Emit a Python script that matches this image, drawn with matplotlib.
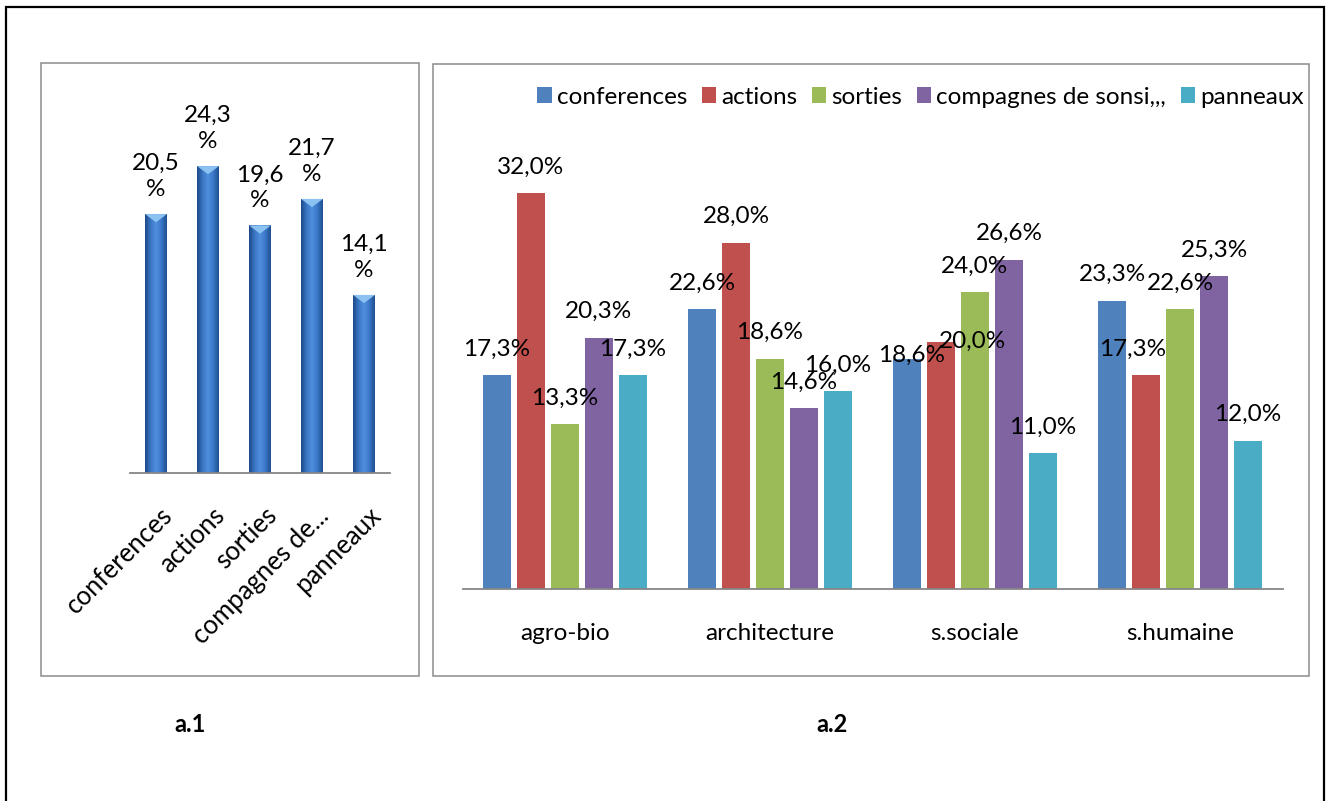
import numpy as np
import matplotlib
matplotlib.use('Agg')
import matplotlib.pyplot as plt
from matplotlib.patches import Rectangle, Polygon
from matplotlib.colors import LinearSegmentedColormap

plt.rcParams['font.family'] = ['Lato', 'DejaVu Sans']

# Data
activities = ['conferences', 'actions', 'sorties', 'compagnes de...', 'panneaux']
overall = [20.5, 24.3, 19.6, 21.7, 14.1]

series_names = ['conferences', 'actions', 'sorties', 'compagnes de sonsi,,,', 'panneaux']
departments = ['agro-bio', 'architecture', 's.sociale', 's.humaine']
conferences = [17.3, 22.6, 18.6, 23.3]
actions = [32.0, 28.0, 20.0, 17.3]
sorties = [13.3, 18.6, 24.0, 22.6]
compagnes = [20.3, 14.6, 26.6, 25.3]
panneaux = [17.3, 16.0, 11.0, 12.0]
series_colors = ['#4F81BD', '#C0504D', '#9BBB59', '#8064A2', '#4BACC6']

W, H = 1326, 801
fig = plt.figure(figsize=(W / 100, H / 100), dpi=100)


def px_axes(x0, y0, x1, y1):
    return fig.add_axes([x0 / W, 1 - y1 / H, (x1 - x0) / W, (y1 - y0) / H])


def px_rect(x0, y0, x1, y1, color, lw):
    fig.add_artist(Rectangle((x0 / W, 1 - y1 / H), (x1 - x0) / W, (y1 - y0) / H,
                             transform=fig.transFigure, fill=False, edgecolor=color, linewidth=lw))


# frames
px_rect(6, 7, 1324, 830, 'black', 1.6)
px_rect(41, 63, 419, 676, '#8c8c8c', 1.1)
px_rect(433, 64, 1309, 676, '#8c8c8c', 1.1)


def strip_axes(ax):
    for s in ['top', 'right', 'left']:
        ax.spines[s].set_visible(False)
    ax.spines['bottom'].set_color('#868686')
    ax.spines['bottom'].set_linewidth(1.3)
    ax.set_xticks([])
    ax.set_yticks([])
    ax.patch.set_alpha(0)


# ---- a.1 : overall shares (cylinder-like blue bars)
ax1 = px_axes(130, 90, 390, 473)
strip_axes(ax1)
cyl = LinearSegmentedColormap.from_list('cyl', ['#1d4a86', '#3a76c4', '#4f8fdc', '#3b78c8', '#1f4f8e'])
grad = np.linspace(0, 1, 64).reshape(1, -1)
bw = 0.42
x1 = np.arange(len(activities))
bars = ax1.bar(x1, overall, width=bw, color='none', edgecolor='none')
for b, v in zip(bars, overall):
    xl = b.get_x()
    im = ax1.imshow(grad, cmap=cyl, aspect='auto', extent=(xl, xl + bw, 0, v), zorder=2)
    im.set_clip_path(b)
    ax1.add_patch(Polygon([(xl, v), (xl + bw, v), (xl + bw / 2, v - 0.65)], closed=True,
                          facecolor='#8cc2f2', edgecolor='none', zorder=3))
    ax1.annotate(f"{v:.1f}".replace('.', ',') + "\n%", xy=(xl + bw / 2, v), xytext=(0, 18),
                 textcoords='offset pixels', ha='center', va='baseline', fontsize=17.5,
                 linespacing=1.3)
ax1.set_xlim(-0.5, len(activities) - 0.5)
ax1.set_ylim(0, 383 / 12.63)
for i, lab in enumerate(activities):
    ax1.annotate(lab, xy=(i, 0), xytext=(4, -30), textcoords='offset pixels', rotation=45,
                 ha='right', va='top', rotation_mode='anchor', fontsize=18.5)

# ---- a.2 : by department
ax2 = px_axes(462.5, 100, 1282.5, 589)
strip_axes(ax2)
values = [conferences, actions, sorties, compagnes, panneaux]
step = 34 / 205
width = 27.5 / 205
xg = np.arange(len(departments))
# label nudges in pixels (dx, dy) where Excel moved overlapping labels
nudges = {(0, 2): (5, 3), (1, 2): (31, 0), (1, 3): (-13, 26)}
for j, (name, vals, col) in enumerate(zip(series_names, values, series_colors)):
    xs = xg + (j - 2) * step
    ax2.bar(xs, vals, width=width, color=col, label=name, zorder=2)
    for i, (x, v) in enumerate(zip(xs, vals)):
        dx, dy = nudges.get((j, i), (0, 26))
        ax2.annotate(f"{v:.1f}".replace('.', ',') + "%", xy=(x, v), xytext=(dx, dy),
                     textcoords='offset pixels', ha='center', va='center', fontsize=17.5)
for i, dep in enumerate(departments):
    ax2.annotate(dep, xy=(i, 0), xytext=(0, -51), textcoords='offset pixels',
                 ha='center', va='baseline', fontsize=17.5)
ax2.set_xlim(-0.5, len(departments) - 0.5)
ax2.set_ylim(0, 489 / 12.375)
ax2.legend(loc='center', bbox_to_anchor=((533 + 1308) / 2 / W, 1 - 97 / H),
           bbox_transform=fig.transFigure, ncol=5, frameon=False, fontsize=17.5,
           handlelength=0.6, handleheight=0.6, handletextpad=0.2, columnspacing=0.6,
           borderpad=0, borderaxespad=0)

fig.text(190 / W, 1 - 725 / H, 'a.1', ha='center', va='center', fontsize=17, fontweight='bold')
fig.text(832 / W, 1 - 725 / H, 'a.2', ha='center', va='center', fontsize=17, fontweight='bold')

fig.savefig('out.png', dpi=100)
